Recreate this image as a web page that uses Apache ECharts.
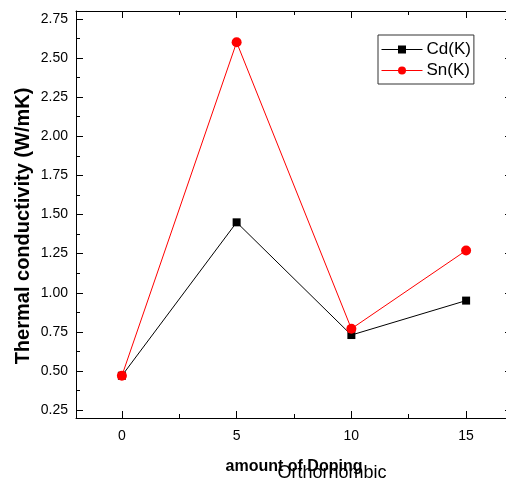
<!DOCTYPE html>
<html>
<head>
<meta charset="utf-8">
<script src="https://cdn.jsdelivr.net/npm/echarts@6/dist/echarts.min.js"></script>
<style>
html,body{margin:0;padding:0;background:#fff;}
#c{width:506px;height:485px;}
</style>
</head>
<body>
<div id="c"></div>
<script>
// ---- data ----
var doping = [0, 5, 10, 15];
var cdK = [0.47, 1.45, 0.73, 0.95];
var snK = [0.47, 2.60, 0.77, 1.27];
var seriesNames = ['Cd(K)', 'Sn(K)'];
var xMajorTicks = [0, 5, 10, 15];
var xMinorTicks = [2.5, 7.5, 12.5];
var yMajorTicks = [0.25, 0.50, 0.75, 1.00, 1.25, 1.50, 1.75, 2.00, 2.25, 2.50, 2.75];
var yMinorTicks = [0.375, 0.625, 0.875, 1.125, 1.375, 1.625, 1.875, 2.125, 2.375, 2.625];
var xTitle = 'amount of Doping';
var yTitle = 'Thermal conductivity (W/mK)';
var extraText = 'Orthorhombic';

var FONT = 'Liberation Sans, Arial, sans-serif';
var X_MIN = -2, X_MAX = 17, Y_MIN = 0.2, Y_MAX = 2.8;

function pairs(xs, ys){ return xs.map(function(x,i){ return [x, ys[i]]; }); }

function xAx(pos, ticks, len, showLine, showLabel){
  return {
    type:'value', position:pos, min:X_MIN, max:X_MAX,
    axisLine:{show:showLine, onZero:false, lineStyle:{color:'#000', width:1}},
    axisTick:{show:true, inside:true, length:len, customValues:ticks, lineStyle:{color:'#000', width:1}},
    axisLabel:{show:showLabel, customValues:ticks, margin:11, color:'#000', fontSize:14, fontFamily:FONT},
    splitLine:{show:false}
  };
}
function yAx(pos, ticks, len, showLine, showLabel){
  return {
    type:'value', position:pos, min:Y_MIN, max:Y_MAX,
    axisLine:{show:showLine, onZero:false, lineStyle:{color:'#000', width:1}},
    axisTick:{show:true, inside:true, length:len, customValues:ticks, lineStyle:{color:'#000', width:1}},
    axisLabel:{show:showLabel, customValues:ticks, margin:8, color:'#000', fontSize:14, fontFamily:FONT,
      formatter:function(v){ return v.toFixed(2); }},
    splitLine:{show:false}
  };
}

var chart = echarts.init(document.getElementById('c'), null, {renderer:'canvas'});
chart.setOption({
  animation:false,
  backgroundColor:'#fff',
  grid:{left:76, top:11, width:436, height:407, containLabel:false, outerBoundsMode:'none'},
  xAxis:[
    xAx('bottom', xMajorTicks, 7, true, true),
    xAx('bottom', xMinorTicks, 4, false, false),
    xAx('top', xMajorTicks, 7, true, false),
    xAx('top', xMinorTicks, 4, false, false)
  ],
  yAxis:[
    yAx('left', yMajorTicks, 7, true, true),
    yAx('left', yMinorTicks, 4, false, false),
    yAx('right', yMajorTicks, 7, true, false),
    yAx('right', yMinorTicks, 4, false, false)
  ],
  legend:{
    orient:'vertical', left:378, top:35,
    data:seriesNames,
    itemWidth:41, itemHeight:10, itemGap:4,
    padding:[6,3,5,3],
    borderColor:'#333', borderWidth:1, borderRadius:0,
    lineStyle:{width:1},
    textStyle:{fontSize:17, color:'#000', fontFamily:FONT, padding:[0,0,0,-1]}
  },
  series:[
    {name:seriesNames[0], type:'line', data:pairs(doping, cdK), xAxisIndex:0, yAxisIndex:0,
     symbol:'rect', symbolSize:8, itemStyle:{color:'#000'}, lineStyle:{color:'#000', width:1}, z:2},
    {name:seriesNames[1], type:'line', data:pairs(doping, snK), xAxisIndex:0, yAxisIndex:0,
     symbol:'circle', symbolSize:10, itemStyle:{color:'#ff0000'}, lineStyle:{color:'#ff0000', width:1}, z:3}
  ],
  graphic:[
    {type:'text', x:23, y:226, rotation:Math.PI/2,
     style:{text:yTitle, font:'bold 20px ' + FONT, fill:'#000', textAlign:'center', textVerticalAlign:'middle'}},
    {type:'text', x:294, y:467,
     style:{text:xTitle, font:'bold 16px ' + FONT, fill:'#000', textAlign:'center', textVerticalAlign:'middle'}},
    {type:'text', x:332, y:473,
     style:{text:extraText, font:'18px ' + FONT, fill:'#000', textAlign:'center', textVerticalAlign:'middle'}}
  ]
});
</script>
</body>
</html>
